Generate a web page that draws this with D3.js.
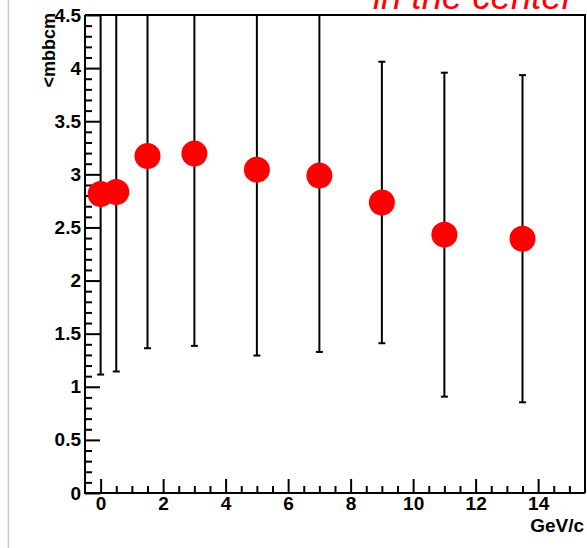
<!DOCTYPE html>
<html>
<head>
<meta charset="utf-8">
<script src="https://cdn.jsdelivr.net/npm/d3@7"></script>
<style>
  html, body { margin: 0; padding: 0; background: #fff; }
  svg { display: block; }
  .tick text { font-family: "Liberation Sans", Arial, Helvetica, sans-serif; font-weight: bold; }
</style>
</head>
<body>
<svg id="chart" width="587" height="548"></svg>
<script>
// pT bin centres (GeV/c), mean values and symmetric errors
const ptValues   = [0, 0.5, 1.5, 3, 5, 7, 9, 11, 13.5];
const meanValues = [2.815, 2.834, 3.173, 3.195, 3.044, 2.988, 2.735, 2.432, 2.394];
const errValues  = [1.70, 1.69, 1.81, 1.81, 1.75, 1.66, 1.325, 1.525, 1.54];

const xMajorTicks = [0, 2, 4, 6, 8, 10, 12, 14];
const yMajorTicks = [0, 0.5, 1, 1.5, 2, 2.5, 3, 3.5, 4, 4.5];
const xTitle = "GeV/c";
const yTitle = "<mbbcm";
const caption = "in the center";

const svg = d3.select("#chart");
const W = 587, H = 548;
const plot = { left: 85, right: 585, top: 15, bottom: 493 };

const x = d3.scaleLinear().domain([-0.5, 15.5]).range([plot.left, plot.right]);
const y = d3.scaleLinear().domain([0, 4.5]).range([plot.bottom, plot.top]);

// pad border on the left
svg.append("line")
  .attr("x1", 8.5).attr("x2", 8.5).attr("y1", 0).attr("y2", H)
  .attr("stroke", "#c8c8c8").attr("stroke-width", 1.5);

// caption, partly outside the canvas at the top
svg.append("text")
  .attr("x", 373).attr("y", 9)
  .attr("font-family", "Liberation Sans, Arial, Helvetica, sans-serif")
  .attr("font-style", "italic")
  .attr("font-size", 36.5)
  .attr("fill", "#ff0000")
  .text(caption);

svg.append("defs").append("clipPath").attr("id", "plotclip")
  .append("rect")
  .attr("x", plot.left).attr("y", plot.top)
  .attr("width", plot.right - plot.left).attr("height", plot.bottom - plot.top);

// frame: top and right edges
svg.append("path")
  .attr("d", `M${plot.left},${plot.top}H${plot.right}V${plot.bottom}`)
  .attr("fill", "none").attr("stroke", "#000").attr("stroke-width", 2);

// minor ticks
const xMinor = d3.range(0, 15.01, 0.5).filter(v => xMajorTicks.indexOf(v) < 0);
const yMinor = d3.range(0, 4.501, 0.1).map(v => +v.toFixed(1)).filter(v => yMajorTicks.indexOf(v) < 0);

svg.append("g")
  .attr("transform", `translate(0,${plot.bottom})`)
  .call(d3.axisTop(x).tickValues(xMinor).tickSize(7).tickFormat(""))
  .call(g => g.select(".domain").remove())
  .call(g => g.selectAll("line").attr("stroke-width", 2));

svg.append("g")
  .attr("transform", `translate(${plot.left},0)`)
  .call(d3.axisRight(y).tickValues(yMinor).tickSize(7).tickFormat(""))
  .call(g => g.select(".domain").remove())
  .call(g => g.selectAll("line").attr("stroke-width", 2));

// major ticks with labels
const xAxis = svg.append("g")
  .attr("transform", `translate(0,${plot.bottom})`)
  .call(d3.axisBottom(x).tickValues(xMajorTicks).tickSize(0).tickPadding(4).tickFormat(d3.format("d")));
xAxis.select(".domain").remove();
xAxis.selectAll("text").attr("font-size", 19).attr("fill", "#000");
svg.append("g")
  .attr("transform", `translate(0,${plot.bottom})`)
  .call(d3.axisTop(x).tickValues(xMajorTicks).tickSize(14).tickFormat(""))
  .call(g => g.select(".domain").remove())
  .call(g => g.selectAll("line").attr("stroke-width", 2));

const yAxis = svg.append("g")
  .attr("transform", `translate(${plot.left},0)`)
  .call(d3.axisLeft(y).tickValues(yMajorTicks).tickSize(0).tickPadding(4).tickFormat(d => d3.format("")(d)));
yAxis.select(".domain").remove();
yAxis.selectAll("text").attr("font-size", 19).attr("fill", "#000");
svg.append("g")
  .attr("transform", `translate(${plot.left},0)`)
  .call(d3.axisRight(y).tickValues(yMajorTicks).tickSize(15).tickFormat(""))
  .call(g => g.select(".domain").remove())
  .call(g => g.selectAll("line").attr("stroke-width", 2));

// axis lines
svg.append("path")
  .attr("d", `M${plot.left},${plot.top}V${plot.bottom}H${plot.right}`)
  .attr("fill", "none").attr("stroke", "#000").attr("stroke-width", 2);

// axis titles
svg.append("text")
  .attr("x", 584).attr("y", 532)
  .attr("text-anchor", "end")
  .attr("font-family", "Liberation Sans, Arial, Helvetica, sans-serif")
  .attr("font-weight", "bold").attr("font-size", 19)
  .text(xTitle);

svg.append("text")
  .attr("transform", "translate(55,13) rotate(-90)")
  .attr("text-anchor", "end")
  .attr("font-family", "Liberation Sans, Arial, Helvetica, sans-serif")
  .attr("font-weight", "bold").attr("font-size", 18)
  .text(yTitle);

// data: error bars then markers
const data = ptValues.map((p, i) => ({ p, m: meanValues[i], e: errValues[i] }));
const marks = svg.append("g").attr("clip-path", "url(#plotclip)");

marks.selectAll("line.err").data(data).enter().append("line")
  .attr("class", "err")
  .attr("x1", d => x(d.p)).attr("x2", d => x(d.p))
  .attr("y1", d => y(d.m - d.e)).attr("y2", d => y(d.m + d.e))
  .attr("stroke", "#000").attr("stroke-width", 2);

[-1, 1].forEach(s => {
  marks.selectAll(null).data(data).enter().append("line")
    .attr("x1", d => x(d.p) - 3.5).attr("x2", d => x(d.p) + 3.5)
    .attr("y1", d => y(d.m + s * d.e)).attr("y2", d => y(d.m + s * d.e))
    .attr("stroke", "#000").attr("stroke-width", 2);
});

marks.selectAll("circle").data(data).enter().append("circle")
  .attr("cx", d => x(d.p)).attr("cy", d => y(d.m))
  .attr("r", 13)
  .attr("fill", "#ff0000");
</script>
</body>
</html>
